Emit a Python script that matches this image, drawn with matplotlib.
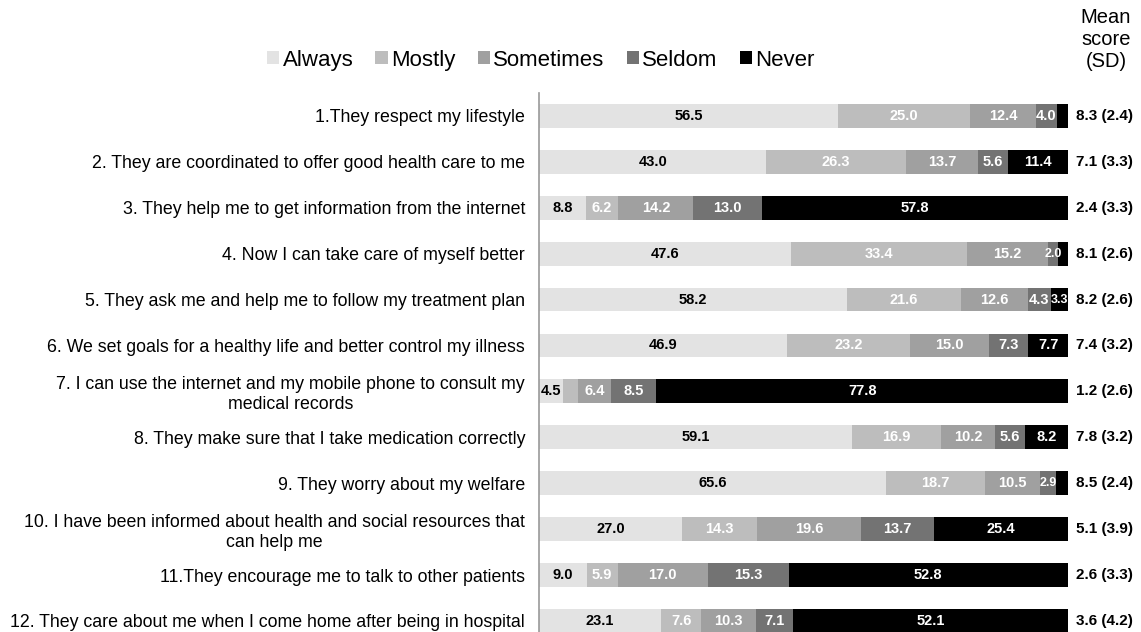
import matplotlib.pyplot as plt
import numpy as np

plt.rcParams['font.family'] = ['Liberation Sans', 'DejaVu Sans']

# --- Data
items = [
    "1.They respect my lifestyle",
    "2. They are coordinated to offer good health care to me",
    "3. They help me to get information from the internet",
    "4. Now I can take care of myself better",
    "5. They ask me and help me to follow my treatment plan",
    "6. We set goals for a healthy life and better control my illness",
    "7. I can use the internet and my mobile phone to consult my\nmedical records",
    "8. They make sure that I take medication correctly",
    "9. They worry about my welfare",
    "10. I have been informed about health and social resources that\ncan help me",
    "11.They encourage me to talk to other patients",
    "12. They care about me when I come home after being in hospital",
]
categories = ["Always", "Mostly", "Sometimes", "Seldom", "Never"]

always = [56.5, 43.0, 8.8, 47.6, 58.2, 46.9, 4.5, 59.1, 65.6, 27.0, 9.0, 23.1]
mostly = [25.0, 26.3, 6.2, 33.4, 21.6, 23.2, 2.8, 16.9, 18.7, 14.3, 5.9, 7.6]
sometimes = [12.4, 13.7, 14.2, 15.2, 12.6, 15.0, 6.4, 10.2, 10.5, 19.6, 17.0, 10.3]
seldom = [4.0, 5.6, 13.0, 2.0, 4.3, 7.3, 8.5, 5.6, 2.9, 13.7, 15.3, 7.1]
never = [2.1, 11.4, 57.8, 1.8, 3.3, 7.7, 77.8, 8.2, 2.3, 25.4, 52.8, 52.1]

# segments too small to carry a label in the original
unlabeled = {(0, 4), (3, 4), (6, 1), (8, 4)}

mean_sd = ["8.3 (2.4)", "7.1 (3.3)", "2.4 (3.3)", "8.1 (2.6)", "8.2 (2.6)", "7.4 (3.2)",
           "1.2 (2.6)", "7.8 (3.2)", "8.5 (2.4)", "5.1 (3.9)", "2.6 (3.3)", "3.6 (4.2)"]

colors = ['#e3e3e3', '#bdbdbd', '#a0a0a0', '#737373', '#000000']
text_colors = ['black', 'white', 'white', 'white', 'white']

# --- Plot
fig = plt.figure(figsize=(11.41, 6.32), dpi=100)
ax = fig.add_axes([0.4724, 0.0, 0.4636, 0.853])

series = [always, mostly, sometimes, seldom, never]
y = np.arange(len(items))
left = np.zeros(len(items))
for j, (vals, cat) in enumerate(zip(series, categories)):
    vals = np.array(vals)
    ax.barh(y, vals, left=left, height=0.52, color=colors[j], label=cat, edgecolor='none')
    for i, v in enumerate(vals):
        if (i, j) in unlabeled:
            continue
        fs = 9 if v < 3.5 else 10.5
        ax.text(left[i] + v / 2, y[i], f"{v:.1f}", ha='center', va='center',
                fontsize=fs, fontweight='bold', color=text_colors[j])
    left += vals

for i, s in enumerate(mean_sd):
    ax.text(101.6, y[i], s, ha='left', va='center', fontsize=11, fontweight='bold',
            clip_on=False)

ax.set_xlim(0, 100)
ax.set_ylim(11.24, -0.5)
ax.set_yticks(y)
ax.set_yticklabels(items, fontsize=12.8, multialignment='center')
ax.tick_params(axis='y', length=0, pad=10)
ax.set_xticks([])
for side in ['top', 'right', 'bottom']:
    ax.spines[side].set_visible(False)
ax.spines['left'].set_color('#999999')
ax.spines['left'].set_linewidth(1.2)

fig.text(0.9693, 0.938, "Mean\nscore\n(SD)", ha='center', va='center', fontsize=14.5,
         linespacing=1.2)

fig.legend(loc='center', bbox_to_anchor=(0.474, 0.905), ncol=5, frameon=False,
           fontsize=16, handlelength=0.55, handleheight=0.55, handletextpad=0.15,
           columnspacing=1.0)

plt.savefig("out.png", dpi=100)
plt.close()
